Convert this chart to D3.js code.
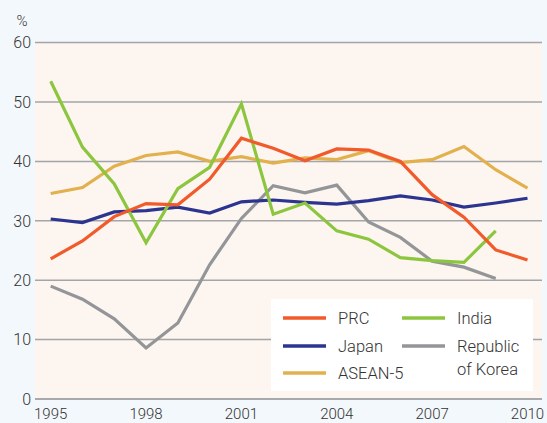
<!DOCTYPE html>
<html>
<head>
<meta charset="utf-8">
<script src="https://cdnjs.cloudflare.com/ajax/libs/d3/7.8.4/d3.min.js"></script>
<style>
  body { margin: 0; background: #f3f8fc; }
  svg { display: block; font-family: Roboto, "Noto Sans", sans-serif; font-weight: 300; }
</style>
</head>
<body>
<div id="chart"></div>
<script>
// data (% share)
const years = d3.range(1995, 2011);
const yTicks = [0, 10, 20, 30, 40, 50, 60];
const xTicks = [1995, 1998, 2001, 2004, 2007, 2010];

const prc    = [23.6, 26.6, 30.7, 32.9, 32.7, 37.0, 43.9, 42.2, 40.1, 42.1, 41.9, 40.0, 34.4, 30.6, 25.1, 23.4];
const japan  = [30.3, 29.7, 31.5, 31.7, 32.3, 31.3, 33.2, 33.5, 33.1, 32.8, 33.4, 34.2, 33.5, 32.3, 33.0, 33.8];
const asean5 = [34.6, 35.6, 39.2, 41.0, 41.6, 40.0, 40.8, 39.7, 40.6, 40.3, 41.8, 39.8, 40.3, 42.5, 38.6, 35.5];
const india  = [53.5, 42.4, 36.2, 26.3, 35.4, 39.0, 49.7, 31.1, 33.0, 28.3, 26.9, 23.8, 23.3, 23.0, 28.3, null];
const korea  = [19.0, 16.8, 13.5, 8.6, 12.8, 22.6, 30.4, 35.9, 34.7, 36.0, 29.8, 27.2, 23.2, 22.2, 20.3, null];

const series = [
  {name: "ASEAN-5", color: "#e2b04c", values: asean5},
  {name: "Republic of Korea", color: "#939598", values: korea},
  {name: "Japan", color: "#2b3590", values: japan},
  {name: "India", color: "#8cc63f", values: india},
  {name: "PRC", color: "#f15a2b", values: prc}
];

const W = 547, H = 423;
const svg = d3.select("#chart").append("svg")
  .attr("width", W).attr("height", H);

const x = d3.scaleLinear().domain([1995, 2010]).range([50.7, 527.5]);
const y = d3.scaleLinear().domain([0, 60]).range([399, 42.6]);

// plot background
svg.append("rect")
  .attr("x", 35).attr("y", y(60))
  .attr("width", 542 - 35).attr("height", y(0) - y(60))
  .attr("fill", "#fdf5ef");

// gridlines
svg.append("g").selectAll("line")
  .data(yTicks)
  .join("line")
  .attr("x1", 35).attr("x2", 542)
  .attr("y1", d => y(d)).attr("y2", d => y(d))
  .attr("stroke", d => d === 0 ? "#a7a9ac" : "#a3a5a8")
  .attr("stroke-width", d => d === 0 ? 2 : 1.5);

// y labels
svg.append("g").selectAll("text")
  .data(yTicks)
  .join("text")
  .attr("x", 31).attr("y", d => y(d))
  .attr("dy", "0.36em")
  .attr("text-anchor", "end")
  .attr("font-size", 16)
  .attr("fill", "#333")
  .text(d => d);

svg.append("text")
  .attr("x", 22).attr("y", 26)
  .attr("text-anchor", "middle")
  .attr("font-size", 15)
  .attr("fill", "#333")
  .text("%");

// x labels
svg.append("g").selectAll("text")
  .data(xTicks)
  .join("text")
  .attr("x", d => x(d)).attr("y", 419)
  .attr("text-anchor", "middle")
  .attr("font-size", 15)
  .attr("fill", "#333")
  .text(d => d);

// lines
const line = d3.line()
  .defined(d => d[1] != null)
  .x(d => x(d[0])).y(d => y(d[1]));

svg.append("g").selectAll("path")
  .data(series)
  .join("path")
  .attr("d", s => line(years.map((yr, i) => [yr, s.values[i]])))
  .attr("fill", "none")
  .attr("stroke", s => s.color)
  .attr("stroke-width", 3.2)
  .attr("stroke-linejoin", "miter");

// legend
const lg = svg.append("g");
lg.append("rect")
  .attr("x", 271).attr("y", 299)
  .attr("width", 262).attr("height", 92)
  .attr("fill", "#fff");

const legendItems = [
  {name: ["PRC"], color: "#f15a2b", lx: 283, ly: 318},
  {name: ["Japan"], color: "#2b3590", lx: 283, ly: 346},
  {name: ["ASEAN-5"], color: "#e2b04c", lx: 283, ly: 373},
  {name: ["India"], color: "#8cc63f", lx: 402, ly: 318},
  {name: ["Republic", "of Korea"], color: "#939598", lx: 402, ly: 346}
];

legendItems.forEach(d => {
  lg.append("line")
    .attr("x1", d.lx).attr("x2", d.lx + 43)
    .attr("y1", d.ly).attr("y2", d.ly)
    .attr("stroke", d.color).attr("stroke-width", 3.5);
  const t = lg.append("text")
    .attr("x", d.lx + 55).attr("y", d.ly)
    .attr("font-size", 16.5)
    .attr("fill", "#333");
  d.name.forEach((s, i) => {
    t.append("tspan")
      .attr("x", d.lx + 55)
      .attr("dy", i === 0 ? "0.36em" : "1.4em")
      .text(s);
  });
});
</script>
</body>
</html>
